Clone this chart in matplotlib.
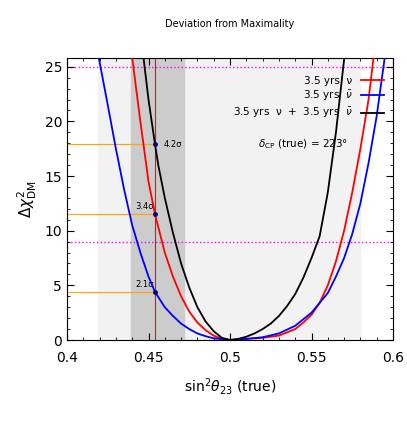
import numpy as np
import matplotlib.pyplot as plt
from matplotlib.ticker import MultipleLocator, FormatStrFormatter

# curves
x_blue = [0.418, 0.425, 0.43, 0.435, 0.44, 0.445, 0.45, 0.454, 0.46, 0.465, 0.47, 0.475, 0.48, 0.485, 0.49,
          0.5, 0.51, 0.52, 0.53, 0.54, 0.55, 0.56, 0.565, 0.57, 0.575, 0.58, 0.585, 0.59, 0.596]
y_blue = [27, 21.5, 17.5, 13.8, 10.5, 8, 5.8, 4.4, 3.0, 2.2, 1.5, 1.0, 0.6, 0.35, 0.15,
          0, 0.1, 0.25, 0.6, 1.3, 2.5, 4.3, 5.8, 7.5, 9.7, 12.5, 16.2, 20.5, 27]
x_red = [0.439, 0.445, 0.45, 0.454, 0.46, 0.465, 0.47, 0.475, 0.48, 0.485, 0.49, 0.495, 0.5, 0.51, 0.52,
         0.53, 0.54, 0.545, 0.55, 0.555, 0.56, 0.565, 0.57, 0.575, 0.58, 0.585, 0.589]
y_red = [27, 20, 14.5, 11.5, 8, 5.8, 4, 2.6, 1.6, 0.9, 0.4, 0.1, 0, 0.1, 0.2,
         0.4, 1.0, 1.6, 2.3, 3.4, 5, 7.2, 10, 13.5, 17.5, 22, 27]
x_black = [0.446, 0.45, 0.454, 0.456, 0.46, 0.465, 0.47, 0.475, 0.48, 0.485, 0.49, 0.495, 0.5, 0.505,
           0.51, 0.515, 0.52, 0.525, 0.53, 0.535, 0.54, 0.545, 0.55, 0.555, 0.56, 0.565, 0.571]
y_black = [27, 22, 17.9, 16, 13, 9.8, 7, 4.8, 3, 1.7, 0.8, 0.2, 0, 0.1,
           0.3, 0.6, 1.0, 1.5, 2.2, 3.1, 4.2, 5.7, 7.5, 9.5, 13.5, 19, 27]

x_true = 0.454
marks = [17.9, 11.5, 4.4]
mark_labels = ["4.2σ", "3.4σ", "2.1σ"]
light_band = (0.419, 0.58)
dark_band = (0.439, 0.472)
sigma_lines = [9, 25]

fig = plt.figure(figsize=(4.07, 4.24), dpi=100)
ax = fig.add_axes([67/407, 1-340/424, 326/407, 282/424])

ax.axvspan(*light_band, color='#f2f2f2', zorder=0)
ax.axvspan(*dark_band, color='#cccccc', zorder=0)
for s in sigma_lines:
    ax.axhline(s, color='magenta', ls=':', lw=1, zorder=1)
ax.axvline(x_true, color='#8b3a3a', lw=0.8, zorder=2)
for m in marks:
    ax.plot([0.4, x_true], [m, m], color='orange', lw=0.8, zorder=2)
    ax.plot(x_true, m, 'o', color='navy', ms=2.5, zorder=5)
ax.text(x_true + 0.005, marks[0], mark_labels[0], fontsize=6, va='center')
ax.text(x_true - 0.001, marks[1] + 0.7, mark_labels[1], fontsize=6, ha='right', va='center')
ax.text(x_true - 0.001, marks[2] + 0.7, mark_labels[2], fontsize=6, ha='right', va='center')

ax.plot(x_red, y_red, color='red', lw=1.3, label='3.5 yrs  ν', zorder=3)
ax.plot(x_blue, y_blue, color='blue', lw=1.3, label=r'3.5 yrs  $\bar{\nu}$', zorder=3)
ax.plot(x_black, y_black, color='black', lw=1.3, label=r'3.5 yrs  ν  +  3.5 yrs  $\bar{\nu}$', zorder=3)

leg = ax.legend(loc='upper right', bbox_to_anchor=(1.0, 0.97), frameon=False, fontsize=7.5,
                markerfirst=False, handlelength=2.2, labelspacing=0.3)
ax.text(0.545, 17.9, r'$\delta_{\rm CP}$ (true) = 223°', fontsize=7.5, ha='center', va='center')

ax.set_xlim(0.4, 0.6)
ax.set_ylim(0, 25.8)
ax.xaxis.set_major_locator(MultipleLocator(0.05))
ax.xaxis.set_minor_locator(MultipleLocator(0.01))
ax.xaxis.set_major_formatter(FormatStrFormatter('%g'))
ax.yaxis.set_major_locator(MultipleLocator(5))
ax.yaxis.set_minor_locator(MultipleLocator(1))
ax.tick_params(which='both', direction='in', top=True, right=True, labelsize=10)
ax.tick_params(axis='x', pad=8)
ax.tick_params(which='major', length=5)
ax.tick_params(which='minor', length=2.5)
ax.set_xlabel(r'sin$^2\theta_{23}$ (true)', fontsize=10, labelpad=8)
ax.set_ylabel(r'$\Delta\chi^2_{\rm DM}$', fontsize=11)
ax.set_title('Deviation from Maximality', fontsize=7, pad=22)

fig.savefig('out.png', dpi=100)
